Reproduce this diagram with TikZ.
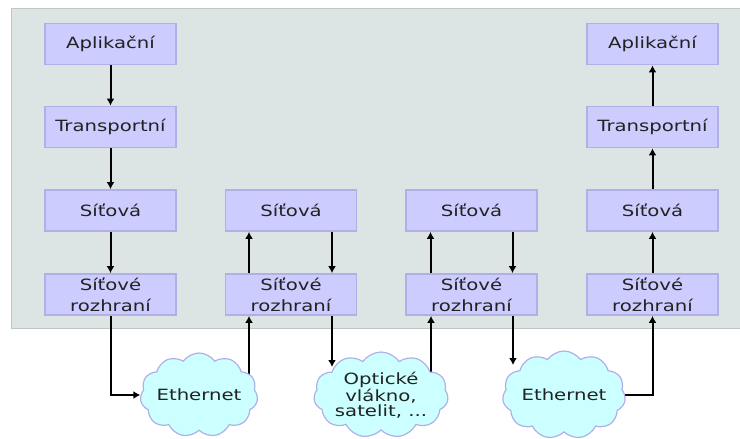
\documentclass[tikz,border=0pt]{standalone}
\usepackage{fontspec}
\setmainfont{DejaVu Sans}[FakeStretch=1.27]
\usetikzlibrary{shapes.symbols,arrows.meta,backgrounds}
\definecolor{boxfill}{RGB}{204,204,255}
\definecolor{boxline}{RGB}{176,176,232}
\definecolor{panel}{RGB}{221,228,228}
\definecolor{panelline}{RGB}{192,198,198}
\definecolor{cloudfill}{RGB}{204,255,255}
\definecolor{txt}{RGB}{34,34,34}
\begin{document}
\begin{tikzpicture}[x=1pt,y=-1pt,
  layer/.style={draw=boxline, line width=1.8pt, fill=boxfill, minimum width=131pt,
    minimum height=41pt, inner sep=0pt, align=center, text=txt,
    font=\fontsize{15.5}{21}\selectfont},
  cloudy/.style={cloud, cloud puffs=11, cloud puff arc=110, cloud ignores aspect,
    draw=boxline, line width=1.2pt, fill=cloudfill, inner sep=0pt, align=center,
    text=txt, font=\fontsize{15.5}{15}\selectfont},
  link/.style={line width=2pt, -{Latex[length=7pt,width=8pt]}}]
  \useasboundingbox (0,0) rectangle (740,439);
  % first end system
  \node[layer] (app1) at (110.5,44) {Aplikační};
  \node[layer] (tr1) at (110.5,127) {Transportní};
  \node[layer] (sit1) at (110.5,210.5) {Síťová};
  \node[layer] (if1) at (110.5,294.5) {Síťové\\rozhraní};
  % routers
  \node[layer] (sit2) at (291,210.5) {Síťová};
  \node[layer] (if2) at (291,294.5) {Síťové\\rozhraní};
  \node[layer] (sit3) at (471.5,210.5) {Síťová};
  \node[layer] (if3) at (471.5,294.5) {Síťové\\rozhraní};
  % second end system
  \node[layer] (app4) at (652.5,44) {Aplikační};
  \node[layer] (tr4) at (652.5,127) {Transportní};
  \node[layer] (sit4) at (652.5,210.5) {Síťová};
  \node[layer] (if4) at (652.5,294.5) {Síťové\\rozhraní};
  % links
  \node[cloudy, minimum width=116pt, minimum height=84pt] (eth1) at (199,395) {Ethernet};
  \node[cloudy, minimum width=133pt, minimum height=86pt] (opt2) at (381,395) {Optické\\vlákno,\\satelit, ...};
  \node[cloudy, minimum width=123pt, minimum height=88pt] (eth3) at (564,395) {Ethernet};
  \coordinate (e1up) at (249,390);
  \coordinate (o2in) at (332,367);
  \coordinate (o2up) at (431,390);
  \coordinate (e3in) at (513,365);

  \draw[link] (app1) -- (tr1);
  \draw[link] (tr1) -- (sit1);
  \draw[link] (sit1) -- (if1);
  \draw[link] ([xshift=-42pt]if2.north) -- ([xshift=-42pt]sit2.south);
  \draw[link] ([xshift=41pt]sit2.south) -- ([xshift=41pt]if2.north);
  \draw[link] ([xshift=-41pt]if3.north) -- ([xshift=-41pt]sit3.south);
  \draw[link] ([xshift=41pt]sit3.south) -- ([xshift=41pt]if3.north);
  \draw[link] (if4) -- (sit4);
  \draw[link] (sit4) -- (tr4);
  \draw[link] (tr4) -- (app4);

  \begin{pgfonlayer}{background}
    \draw[panelline, fill=panel, line width=0.8pt] (11,8) rectangle (742,328);
    \draw[link] (if1.south) |- (eth1.west);
    \draw[link] (e1up) -- (e1up |- if2.south);
    \draw[link] (o2in |- if2.south) -- (o2in);
    \draw[link] (o2up) -- (o2up |- if3.south);
    \draw[link] (e3in |- if3.south) -- (e3in);
    \draw[link] (eth3.east) -| (if4.south);
  \end{pgfonlayer}
\end{tikzpicture}
\end{document}
